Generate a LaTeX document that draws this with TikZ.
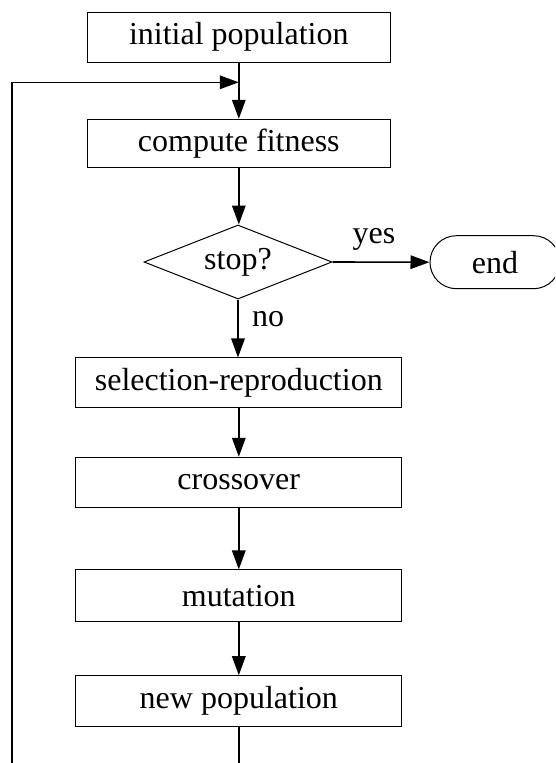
\documentclass[tikz,border=0pt]{standalone}
\usepackage{fontspec}
\setmainfont{Liberation Serif}
\usetikzlibrary{arrows.meta,shapes.geometric,shapes.misc}
\begin{document}
\begin{tikzpicture}[x=1pt,y=-1pt,
  every node/.style={font=\fontsize{32}{38}\selectfont, inner sep=0pt},
  procbox/.style={draw, line width=1pt, rectangle},
  narrow/.style={procbox, minimum width=303pt, minimum height=49.7pt},
  wide/.style={procbox, minimum width=325.7pt, minimum height=49.5pt},
  decision/.style={draw, line width=1pt, diamond, aspect=2.54, minimum width=188pt, minimum height=74pt},
  terminal/.style={draw, line width=1pt, rounded rectangle, minimum width=130pt, minimum height=53pt},
  flow/.style={line width=1.6pt, -{Triangle[length=19pt,width=13.5pt]}},
  plain/.style={line width=1.6pt},
  lbl/.style={font=\fontsize{32}{38}\selectfont}]
\useasboundingbox (0,0) rectangle (555,763);
\clip (0,0) rectangle (555,763);
\node[narrow] (init) at (238.8,37.2) {initial population};
\node[narrow, minimum height=48pt] (fit) at (238.8,143.3) {compute fitness};
\node[decision] (stop) at (238,262) {stop?};
\node[terminal] (end) at (495,262.2) {end};
\node[wide] (sel) at (238.8,382.7) {selection-reproduction};
\node[wide, minimum height=50pt] (cross) at (238.8,482.3) {crossover};
\node[wide, minimum height=51.7pt] (mut) at (238.8,595.8) {mutation};
\node[wide, minimum height=51pt] (newp) at (238.8,701.2) {new population};
\coordinate (join) at (238.8,82.3);
\coordinate (bl) at (11.7,800);
\coordinate (br) at (238.8,800);
\coordinate (tl) at (11.7,82.3);
\node[lbl] (yes) at (374,239) {yes};
\node[lbl] (no) at (268,319) {no};
\draw[plain] (init.south) -- (join);
\draw[flow] (join) -- (fit.north);
\draw[flow] (fit.south) -- (fit.south |- stop.north);
\draw[flow] (stop.east) -- (end.west);
\draw[flow] (stop.south) -- (stop.south |- sel.north);
\draw[flow] (sel.south) -- (cross.north);
\draw[flow] (cross.south) -- (mut.north);
\draw[flow] (mut.south) -- (newp.north);
\draw[plain] (newp.south) -- (br) -- (bl) -- (tl);
\draw[flow] (tl) -- (join);
\end{tikzpicture}
\end{document}
